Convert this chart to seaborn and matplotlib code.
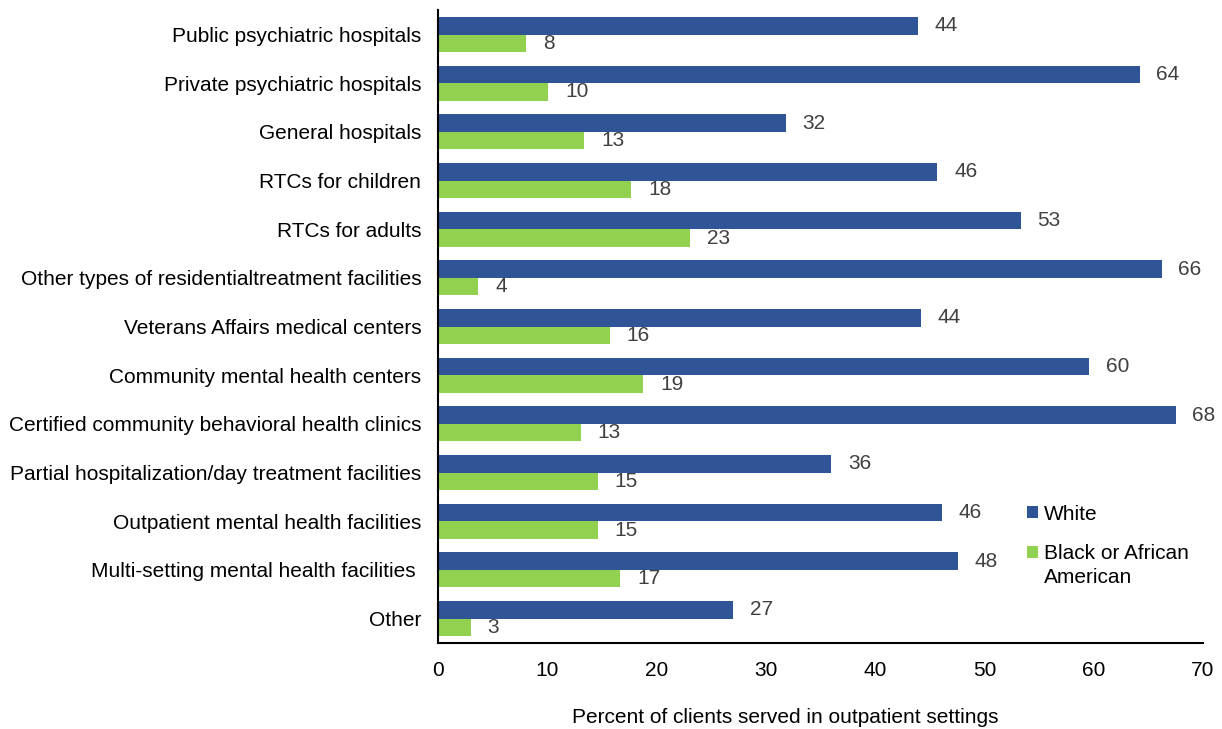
import matplotlib
matplotlib.use("Agg")
import matplotlib.pyplot as plt
import seaborn as sns
import pandas as pd

# Dati del grafico
categories = [
    "Public psychiatric hospitals",
    "Private psychiatric hospitals",
    "General hospitals",
    "RTCs for children",
    "RTCs for adults",
    "Other types of residentialtreatment facilities",
    "Veterans Affairs medical centers",
    "Community mental health centers",
    "Certified community behavioral health clinics",
    "Partial hospitalization/day treatment facilities",
    "Outpatient mental health facilities",
    "Multi-setting mental health facilities ",
    "Other",
]
white = [43.9, 64.2, 31.8, 45.7, 53.3, 66.2, 44.2, 59.6, 67.5, 36.0, 46.1, 47.6, 27.0]
black = [8.1, 10.1, 13.4, 17.7, 23.1, 3.7, 15.7, 18.8, 13.1, 14.6, 14.6, 16.7, 3.0]
series = ["White", "Black or African American"]
colors = ["#2F5597", "#92D050"]

df = pd.DataFrame({
    "category": categories * 2,
    "value": white + black,
    "group": [series[0]] * len(categories) + [series[1]] * len(categories),
})

sns.set_style("white")
plt.rcParams["font.family"] = ["Liberation Sans", "DejaVu Sans"]
plt.rcParams["text.color"] = "black"

fig, ax = plt.subplots(figsize=(12.22, 7.29), dpi=100)
fig.subplots_adjust(left=0.3584, right=0.9845, top=0.986, bottom=0.118)

sns.barplot(data=df, y="category", x="value", hue="group", order=categories,
            hue_order=series, palette=colors, orient="h", width=0.72,
            saturation=1, linewidth=0, ax=ax, legend=True)

for cont in ax.containers:
    ax.bar_label(cont, fmt="%.0f", padding=12, fontsize=15, color="#404040")

ax.set_xlim(0, 70)
ax.set_xticks(range(0, 71, 10))
ax.set_ylim(len(categories) - 0.5, -0.5)
ax.tick_params(axis="x", labelsize=15, length=0, pad=13, colors="black")
ax.tick_params(axis="y", labelsize=15, length=0, pad=12, colors="black")
ax.set_ylabel("")
ax.set_xlabel("Percent of clients served in outpatient settings", fontsize=15,
              labelpad=20, color="black")
ax.xaxis.label.set_x(0.4536)

sns.despine(ax=ax)
for s in ["left", "bottom"]:
    ax.spines[s].set_color("black")
    ax.spines[s].set_linewidth(1.5)

# Legenda: la seconda voce va a capo, con il quadratino allineato alla prima riga
handles, _ = ax.get_legend_handles_labels()
leg = ax.legend(handles, ["White", "Black or African"], loc="upper left",
                bbox_to_anchor=(0.759, 0.232), frameon=False, fontsize=15,
                handlelength=0.55, handleheight=0.55, handletextpad=0.25,
                labelspacing=1.0, borderaxespad=0, labelcolor="black")
ax.annotate("American", xy=(0, 0.5), xycoords=leg.get_texts()[1],
            xytext=(0, -24), textcoords="offset pixels", ha="left", va="center",
            fontsize=15, color="black", zorder=10)

fig.savefig("out.png", dpi=100)
